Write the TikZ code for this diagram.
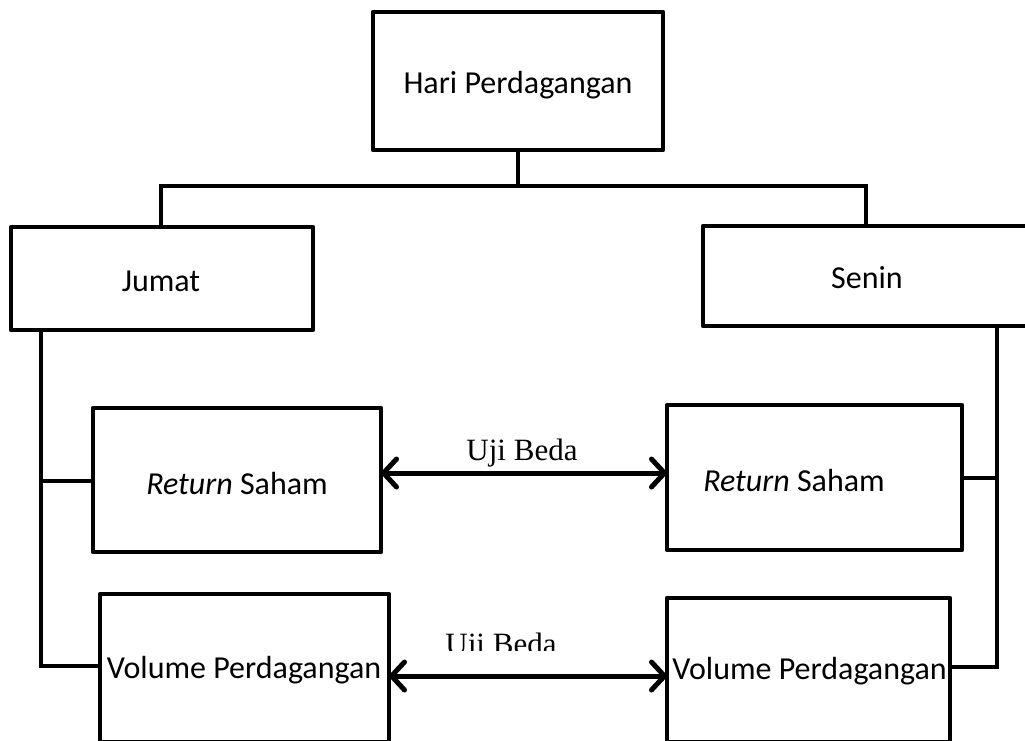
\documentclass[tikz,border=0pt]{standalone}
\usepackage{fontspec}
\setmainfont{Carlito}
\newfontfamily\tnr{Liberation Serif}
\usetikzlibrary{arrows.meta}
\begin{document}
\begin{tikzpicture}[x=1pt,y=-1pt,
  box/.style={draw=black,line width=4.5pt,line join=round,inner sep=0pt,outer sep=0pt,fill=white},
  txt/.style={font=\fontsize{32}{38}\selectfont,inner sep=0pt},
  lbl/.style={font=\tnr\fontsize{31}{36}\selectfont,inner sep=0pt},
  conn/.style={draw=black,line width=3.5pt,line join=miter},
  dbl/.style={draw=black,line width=5pt,{Straight Barb[length=13pt,width=28pt,round]}-{Straight Barb[length=13pt,width=28pt,round]}}]
\useasboundingbox (0,0) rectangle (1025,740);
\clip (0,0) rectangle (1025,740);
\fill[white] (0,0) rectangle (1025,740);
% helper coordinates
\coordinate (bus) at (518,186);
\coordinate (jx) at (161,0);
\coordinate (sx) at (866,0);
\coordinate (lb) at (41,0);
\coordinate (rb) at (997,0);
% connectors (drawn first, boxes on top)
\draw[conn] (518,150) -- (bus);
\draw[conn] (jx |- 0,227) |- (bus) -| (sx |- 0,226);
\draw[conn] (lb |- 0,330) |- (100,666);
\draw[conn] (lb |- 0,481) -- (93,481);
\draw[conn] (rb |- 0,326) |- (950,667);
\draw[conn] (rb |- 0,478) -- (962,478);
% boxes
\node[box,minimum width=290pt,minimum height=138pt] (hari) at (518,81) {};
\node[txt] (hariT) at (518,85) {Hari Perdagangan};
\node[box,minimum width=302pt,minimum height=103pt] (jumat) at (162,278.5) {};
\node[txt] (jumatT) at (161,281) {Jumat};
\node[box,minimum width=330pt,minimum height=100pt] (senin) at (868,276) {};
\node[txt] (seninT) at (867,278) {Senin};
\node[box,minimum width=288pt,minimum height=144pt] (retL) at (237,480) {};
\node[txt] (retLT) at (237,483) {\textit{Return} Saham};
\node[box,minimum width=295pt,minimum height=145pt] (retR) at (814.5,477.5) {};
\node[txt] (retRT) at (794,480) {\textit{Return} Saham};
\node[box,minimum width=289pt,minimum height=148pt] (volL) at (244.5,668) {};
\node[txt] (volLT) at (244,670) {Volume Perdagangan};
\node[box,minimum width=283pt,minimum height=144pt] (volR) at (808.5,670) {};
\node[txt] (volRT) at (809.5,671) {Volume Perdagangan};
% arrows
\draw[dbl] ([yshift=7pt]retL.east) -- ([yshift=7pt]retL.east -| retR.west);
\node[lbl] (uji1) at (522,453) {Uji Beda};
\draw[dbl] ([yshift=-8pt]volL.east) -- ([yshift=-8pt]volL.east -| volR.west);
\begin{scope}
\clip (400,600) rectangle (600,650);
\node[lbl,anchor=base] (uji2) at (501,654) {Uji Beda};
\end{scope}
\end{tikzpicture}
\end{document}
